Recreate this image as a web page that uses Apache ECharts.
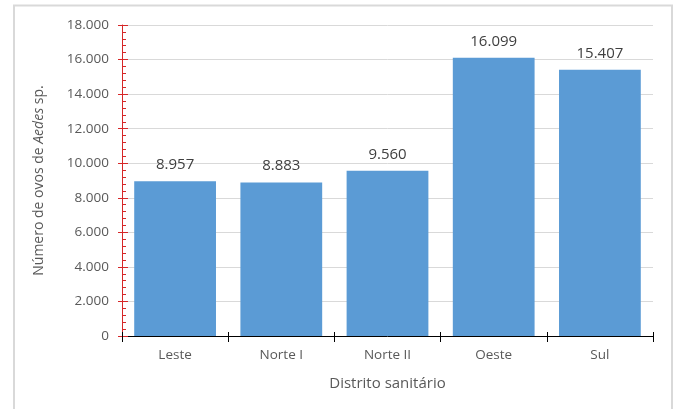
<!DOCTYPE html>
<html>
<head>
<meta charset="utf-8">
<script src="https://cdn.jsdelivr.net/npm/echarts@6/dist/echarts.min.js"></script>
<style>html,body{margin:0;padding:0;background:#fff}#c{width:679px;height:409px}</style>
</head>
<body>
<div id="c"></div>
<script>
const categories = ['Leste', 'Norte I', 'Norte II', 'Oeste', 'Sul'];
const values = [8957, 8883, 9560, 16099, 15407];
const yMin = 0, yMax = 18000, yInterval = 2000;
const xTitle = 'Distrito sanitário';

function fmt(v) { return String(v).replace(/\B(?=(\d{3})+(?!\d))/g, '.'); }

const halfCats = [];
categories.forEach(c => { halfCats.push(c + 'a'); halfCats.push(c + 'b'); });

const FONT = 'Open Sans';
const chart = echarts.init(document.getElementById('c'));
chart.setOption({
  animation: false,
  backgroundColor: '#fff',
  grid: { left: 122, right: 26, top: 25, bottom: 73, containLabel: false },
  graphic: [{
    type: 'rect', shape: { x: 14, y: 5.5, width: 658, height: 430 },
    style: { fill: 'none', stroke: '#d9d9d9', lineWidth: 2 }, silent: true, z: -1
  }],
  xAxis: [{
    type: 'category', data: categories,
    axisLine: { lineStyle: { color: '#000', width: 1 } },
    axisTick: { show: true, length: 6, lineStyle: { color: '#000' } },
    axisLabel: { color: '#595959', fontFamily: FONT, fontSize: 13.5, margin: 12 },
    name: xTitle, nameLocation: 'middle', nameGap: 40,
    nameTextStyle: { color: '#595959', fontFamily: FONT, fontSize: 15 }
  }, {
    type: 'category', data: halfCats, position: 'bottom',
    axisLine: { show: false },
    axisTick: { show: true, inside: true, length: 4, interval: 0, lineStyle: { color: '#000' } },
    axisLabel: { show: false }, splitLine: { show: false }
  }],
  yAxis: [{
    type: 'value', min: yMin, max: yMax, interval: yInterval,
    axisLine: { show: true, lineStyle: { color: '#d62728' } },
    axisTick: { show: true, length: 4, lineStyle: { color: '#d62728' } },
    axisLabel: { color: '#595959', fontFamily: FONT, fontSize: 13.5, margin: 13, formatter: v => fmt(v) },
    splitLine: { show: true, lineStyle: { color: '#d9d9d9', width: 1 } },
    name: '{n|Número de ovos de }{i|Aedes}{n| sp.}',
    nameLocation: 'middle', nameRotate: 90, nameGap: 76,
    nameTextStyle: {
      rich: {
        n: { color: '#595959', fontFamily: FONT, fontSize: 14 },
        i: { color: '#595959', fontFamily: FONT, fontSize: 14, fontStyle: 'italic' }
      }
    }
  }, {
    type: 'value', min: yMin, max: yMax, interval: yInterval, position: 'left',
    axisLine: { show: false },
    axisTick: { show: true, inside: true, length: 6, lineStyle: { color: '#d62728' } },
    minorTick: { show: true, splitNumber: 5, length: 4, lineStyle: { color: '#d62728' } },
    axisLabel: { show: false }, splitLine: { show: false }
  }],
  series: [{
    type: 'bar', data: values, xAxisIndex: 0, yAxisIndex: 0,
    barCategoryGap: '23%',
    itemStyle: { color: '#5b9bd5' },
    label: {
      show: true, position: 'top', distance: 9,
      color: '#404040', fontFamily: FONT, fontSize: 15,
      formatter: p => fmt(p.value)
    }
  }]
});
</script>
</body>
</html>
